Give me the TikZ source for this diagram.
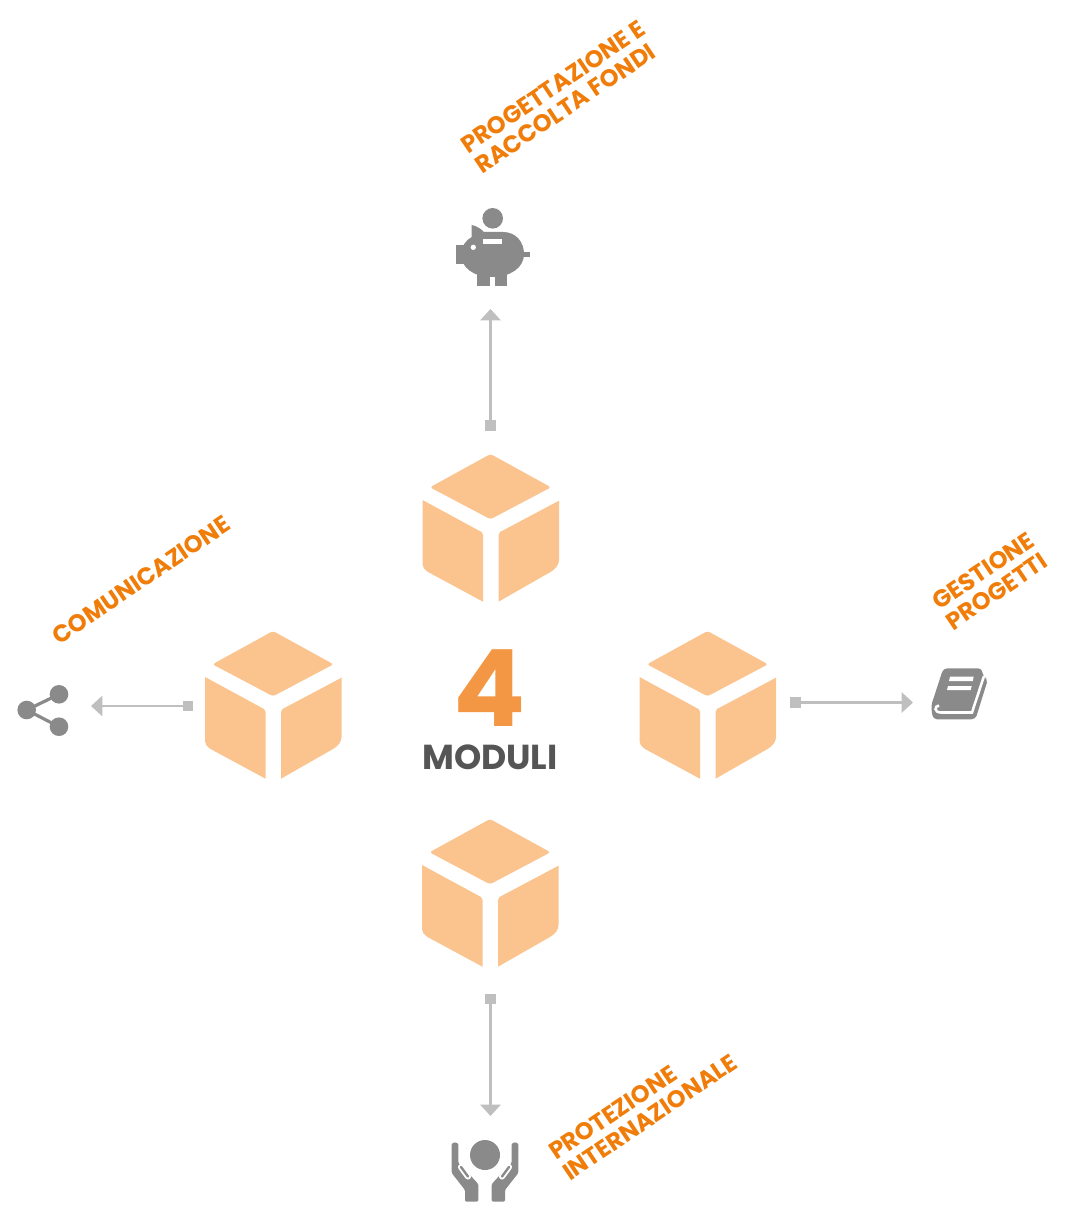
\documentclass[tikz,border=0pt]{standalone}
\usepackage{fontspec}
\setmainfont{Poppins}
\usetikzlibrary{arrows.meta}
\definecolor{cubec}{HTML}{FBC48F}
\definecolor{lbl}{HTML}{F07D0A}
\definecolor{icon}{HTML}{8A8A8A}
\definecolor{conn}{HTML}{BFBFBF}
\definecolor{four}{HTML}{F39744}
\definecolor{modc}{HTML}{555555}
\tikzset{
 x=0.75pt,y=-0.75pt,
 cube/.pic={
  \fill[cubec,rounded corners=2pt] (-60.5,33.3) -- (0,0) -- (60.5,33.3) -- (0,65.3) -- cycle;
  \fill[cubec] (-68,46) -- (-9,78) .. controls (-7.8,78.8) and (-7.5,80) .. (-7.5,81) -- (-7.5,147.7) -- (-63,117.7) .. controls (-66,116) and (-68,113) .. (-68,110) -- cycle;
  \fill[cubec] (68.5,46.7) -- (68.5,106) .. controls (68.5,111) and (65,115) .. (60,118) -- (8,147.7) -- (8,81) .. controls (8,80) and (8.3,78.8) .. (9.5,78) -- cycle;
 },
 endsq/.style={fill=conn,inner sep=0pt,minimum size=8.2pt,draw=none},
 link/.style={draw=conn,line width=2.2pt,-{Triangle[length=8.5pt,width=15pt,color=conn]}},
 tag/.style={text=lbl,font=\fontsize{18}{18.5}\selectfont\bfseries,rotate=34,align=left,inner sep=0pt},
 iconf/.style={fill=icon,draw=none},
}
\begin{document}
\begin{tikzpicture}
\useasboundingbox (0,0) rectangle (1064,1205);
% cubes
\pic at (490.5,454) {cube};
\pic at (273,631) {cube};
\pic at (707.5,631) {cube};
\pic at (490,819) {cube};
% connectors
\node[endsq] (st) at (490.5,425.5) {};
\coordinate (et) at (490.5,309);
\draw[link] (st.center) -- (et);
\node[endsq] (sl) at (188,706) {};
\coordinate (el) at (91,706);
\draw[link] (sl.center) -- (el);
\node[endsq] (sr) at (795.5,702.5) {};
\coordinate (er) at (913,702.5);
\draw[link] (sr.center) -- (er);
\node[endsq] (sb) at (490.5,999) {};
\coordinate (eb) at (490.5,1116);
\draw[link] (sb.center) -- (eb);
% centre
\node[text=four,inner sep=0pt,font=\fontsize{80}{80}\selectfont\bfseries] (num) at (490,688) {4};
\node[text=modc,inner sep=0pt,font=\fontsize{26}{26}\selectfont\bfseries] (mod) at (490,757) {MODULI};
% labels
\node[tag] (t1) at (560,97) {PROGETTAZIONE E\\RACCOLTA FONDI};
\node[tag] (t2) at (141,580) {COMUNICAZIONE};
\node[tag] (t3) at (990,581) {GESTIONE\\PROGETTI};
\node[tag] (t4) at (643,1107) {PROTEZIONE\\INTERNAZIONALE};
% piggy
\fill[iconf] (492.7,218.3) circle[radius=10.3*0.75pt];
\fill[iconf] (456,245) rectangle (464,264);
\fill[iconf] (522,252.3) rectangle (529.5,256.7);
\fill[iconf] (477.3,270) rectangle (490,285.7);
\fill[iconf] (495,270) rectangle (507.3,285.7);
\fill[iconf] (471.7,225) .. controls (477,226) and (481,229) .. (484,232) -- (503,232) .. controls (516,232) and (524,242) .. (524,254) .. controls (524,268) and (510,277) .. (492,277) .. controls (474,277) and (461,268) .. (461,254) .. controls (461,247) and (466,240) .. (471.7,237) -- cycle;
\fill[white] (483.3,239) rectangle (501.7,243.7);
\fill[white] (473.3,247.3) circle[radius=2pt];
% hands
\fill[iconf] (485,1155) circle[radius=15*0.75pt];
\foreach \s in {1,-1}{
\begin{scope}[shift={(485,0)},xscale=\s]
\fill[iconf,rounded corners=1pt] (-33.3,1173) -- (-33.3,1146) .. controls (-33.3,1141.7) and (-26.7,1141.7) .. (-26.7,1146) -- (-26.7,1163) -- (-15,1175) -- (-6.7,1184) -- (-6.7,1201.7) -- (-20,1201.7) -- (-20,1190) -- cycle;
\draw[white,line width=4.6pt,line cap=round] (-24,1167) -- (-17,1176.5);
\draw[icon,line width=1.8pt,line cap=round] (-24,1167) -- (-17,1176.5);
\end{scope}}
% book
\fill[iconf,rounded corners=3pt] (943.3,668.3) -- (982,668.3) -- (983,677) -- (988,679) -- (975.5,719.3) -- (933,719.3) -- (931,706) -- cycle;
\draw[white,line width=1.9pt] (984,676) -- (972,712.5) -- (941,712.5) .. controls (934,712.5) and (934,706) .. (939,705.5);
\fill[white] (950,676.7) -- (973.7,676.7) -- (972.7,681) -- (949,681) -- cycle;
\fill[white] (948,686) -- (971.7,686) -- (970.7,690) -- (947,690) -- cycle;
% share
\fill[iconf] (59,694.3) circle[radius=9.3*0.75pt];
\fill[iconf] (26.7,710) circle[radius=9.3*0.75pt];
\fill[iconf] (59,726.7) circle[radius=9.3*0.75pt];
\draw[icon,line width=2.4pt] (59,694.3) -- (26.7,710) -- (59,726.7);
\end{tikzpicture}
\end{document}
